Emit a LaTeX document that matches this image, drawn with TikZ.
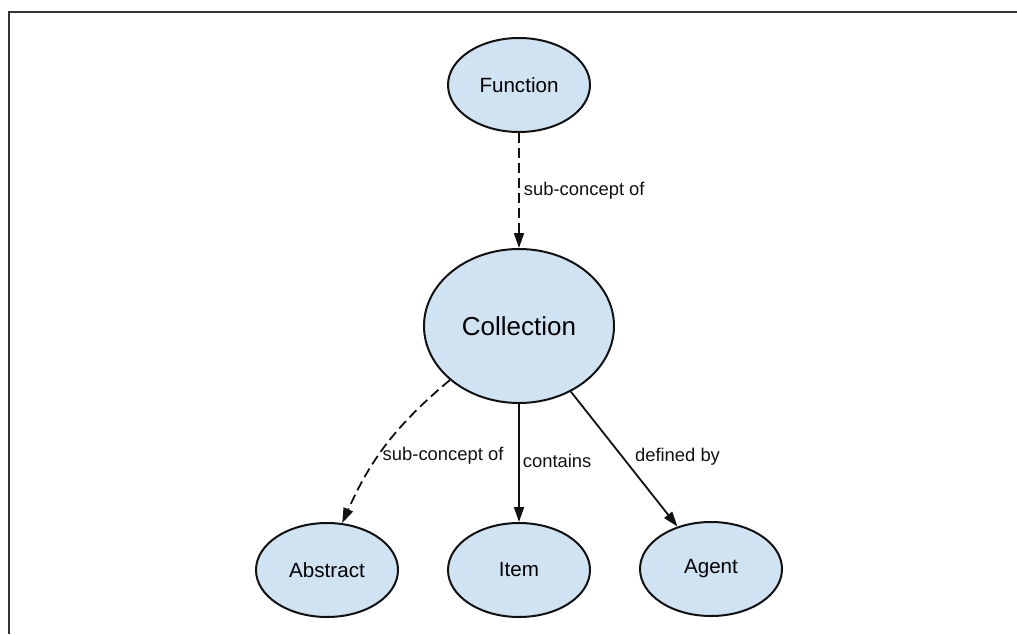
\documentclass[tikz,border=0pt]{standalone}
\usepackage{fontspec}
\setmainfont{Liberation Sans}
\usetikzlibrary{shapes.geometric,arrows.meta}
\definecolor{nodefill}{HTML}{D0E3F2}
\definecolor{ink}{HTML}{111111}
\definecolor{framegray}{HTML}{333333}
\tikzset{
  concept/.style={ellipse, draw=ink, line width=1pt, fill=nodefill, inner sep=0pt,
    minimum width=71pt, minimum height=47pt, font=\fontsize{10.3}{12}\selectfont},
  bigconcept/.style={concept, minimum width=95pt, minimum height=77pt,
    font=\fontsize{13}{15}\selectfont},
  rel/.style={draw=ink, line width=0.9pt, -{Triangle[length=7.5pt,width=5pt]}},
  subrel/.style={rel, dash pattern=on 5pt off 2.5pt},
  lab/.style={text=ink, font=\fontsize{9.2}{11}\selectfont, inner sep=2pt},
}

\begin{document}
\begin{tikzpicture}[x=1pt,y=1pt]
\useasboundingbox (0,0) rectangle (508.5,317);
\draw[framegray, line width=1pt] (4.5,0) -- (4.5,311) -- (508.5,311);

\node[concept] (function) at (259.5,274.5) {Function};
\node[bigconcept] (collection) at (259.5,154) {Collection};
\node[concept] (abstract) at (163.5,32) {Abstract};
\node[concept] (item) at (259.5,32) {Item};
\node[concept] (agent) at (355.5,32.5) {Agent};

\draw[subrel] (function) -- node[lab, right] {sub-concept of} (collection);
\draw[subrel] (collection.218) to[bend right=13]
  node[lab, pos=0.58, right, inner sep=1.5pt] {sub-concept of} (abstract.72);
\draw[rel] (collection) -- node[lab, right, inner sep=1.5pt, yshift=1pt] {contains} (item);
\draw[rel] (collection) -- node[lab, right=3pt, yshift=1pt] {defined by} (agent);
\end{tikzpicture}
\end{document}
